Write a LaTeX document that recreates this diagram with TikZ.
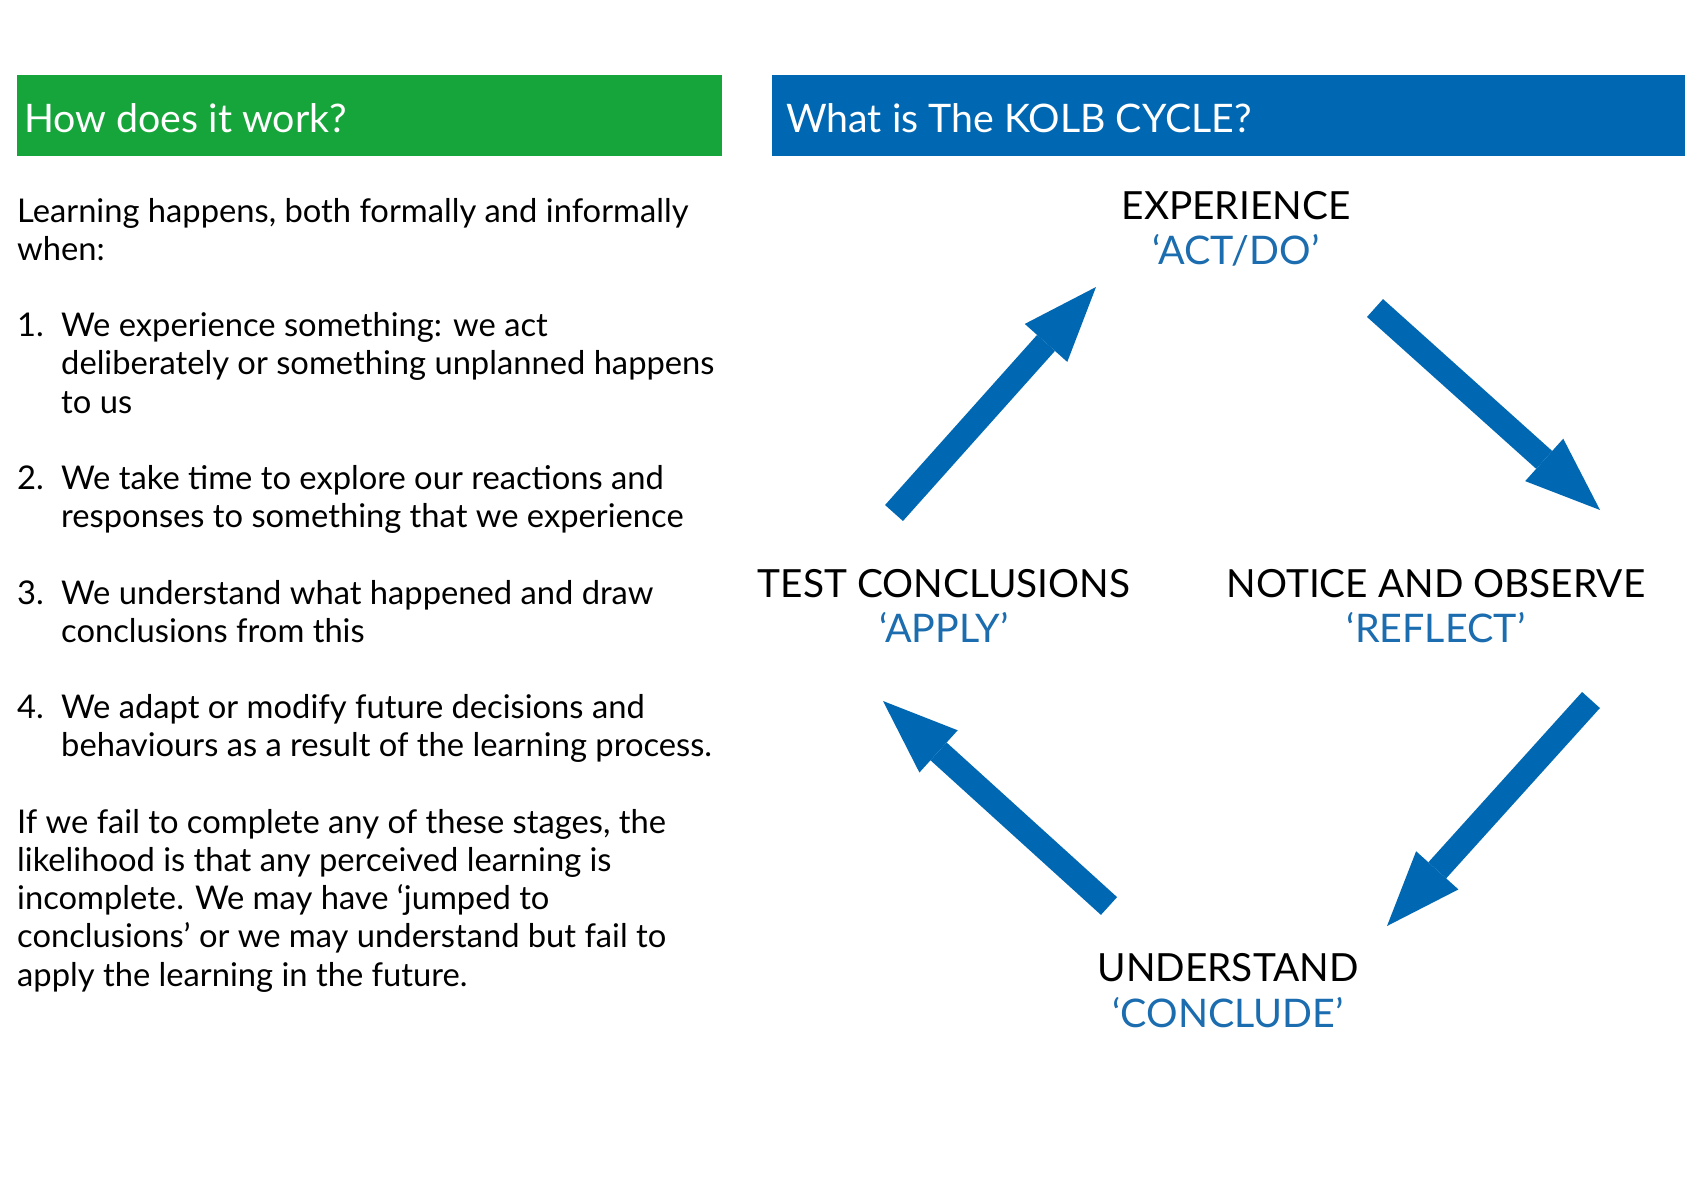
\documentclass[tikz,border=0pt]{standalone}
\usepackage{fontspec}
\setmainfont{Lato}
\usetikzlibrary{arrows.meta}
\definecolor{hgreen}{HTML}{16A53A}
\definecolor{hblue}{HTML}{0068B3}
\definecolor{lblue}{HTML}{1B6DAF}
\begin{document}
\begin{tikzpicture}[x=1pt,y=-1pt,
  hdr/.style={anchor=base west,inner sep=0pt,text=white,font=\fontsize{39.3}{44}\selectfont},
  body/.style={anchor=base west,inner sep=0pt,font=\fontsize{32.7}{38}\selectfont},
  stage/.style={anchor=base,inner sep=0pt,font=\fontsize{38.8}{44}\selectfont},
  sub/.style={anchor=base,inner sep=0pt,text=lblue,font=\fontsize{39.4}{44}\selectfont},
  bigarrow/.style={draw=hblue,line width=24pt,-{Triangle[length=75pt,width=57pt,line width=0pt]}}]
\useasboundingbox[fill=white] (0,0) rectangle (1697,1200);
% header bars
\fill[hgreen] (17,75) rectangle (722,156);
\fill[hblue] (772,75) rectangle (1685,156);
\node[hdr] (h1) at (24,132) {How does it work?};
\node[hdr] (h2) at (786,132) {What is The KOLB CYCLE?};
% left text
\def\B#1{\fpeval{222+38.2*#1}}
\node[body] (l0) at (17,{\B{0}}) {Learning happens, both formally and informally};
\node[body] (l1) at (17,{\B{1}}) {when:};
\node[body] (n1) at (17,{\B{3}}) {1.};
\node[body] (l3) at (61,{\B{3}}) {We experience something: we act};
\node[body] (l4) at (61,{\B{4}}) {deliberately or something unplanned happens};
\node[body] (l5) at (61,{\B{5}}) {to us};
\node[body] (n2) at (17,{\B{7}}) {2.};
\node[body] (l7) at (61,{\B{7}}) {We take time to explore our reactions and};
\node[body] (l8) at (61,{\B{8}}) {responses to something that we experience};
\node[body] (n3) at (17,{\B{10}}) {3.};
\node[body] (l10) at (61,{\B{10}}) {We understand what happened and draw};
\node[body] (l11) at (61,{\B{11}}) {conclusions from this};
\node[body] (n4) at (17,{\B{13}}) {4.};
\node[body] (l13) at (61,{\B{13}}) {We adapt or modify future decisions and};
\node[body] (l14) at (61,{\B{14}}) {behaviours as a result of the learning process.};
\node[body] (l16) at (17,{\B{16}}) {If we fail to complete any of these stages, the};
\node[body] (l17) at (17,{\B{17}}) {likelihood is that any perceived learning is};
\node[body] (l18) at (17,{\B{18}}) {incomplete. We may have ‘jumped to};
\node[body] (l19) at (17,{\B{19}}) {conclusions’ or we may understand but fail to};
\node[body] (l20) at (17,{\B{20}}) {apply the learning in the future.};
% stages
\node[stage] (exp) at (1236,219) {EXPERIENCE};
\node[sub] (expb) at (1236,264) {‘ACT/DO’};
\node[stage] (tst) at (944,597) {TEST CONCLUSIONS};
\node[sub] (tstb) at (944,642) {‘APPLY’};
\node[stage] (ntc) at (1436,597) {NOTICE AND OBSERVE};
\node[sub] (ntcb) at (1436,642) {‘REFLECT’};
\node[stage] (und) at (1228,981) {UNDERSTAND};
\node[sub] (undb) at (1228,1027) {‘CONCLUDE’};
% arrows
\coordinate (a1s) at (894,513); \coordinate (a1e) at (1096,287);
\coordinate (a2s) at (1375,308); \coordinate (a2e) at (1600,510);
\coordinate (a3s) at (1591,700); \coordinate (a3e) at (1387,926);
\coordinate (a4s) at (1109,906); \coordinate (a4e) at (883,701);
\draw[bigarrow] (a1s) -- (a1e);
\draw[bigarrow] (a2s) -- (a2e);
\draw[bigarrow] (a3s) -- (a3e);
\draw[bigarrow] (a4s) -- (a4e);
\end{tikzpicture}
\end{document}
